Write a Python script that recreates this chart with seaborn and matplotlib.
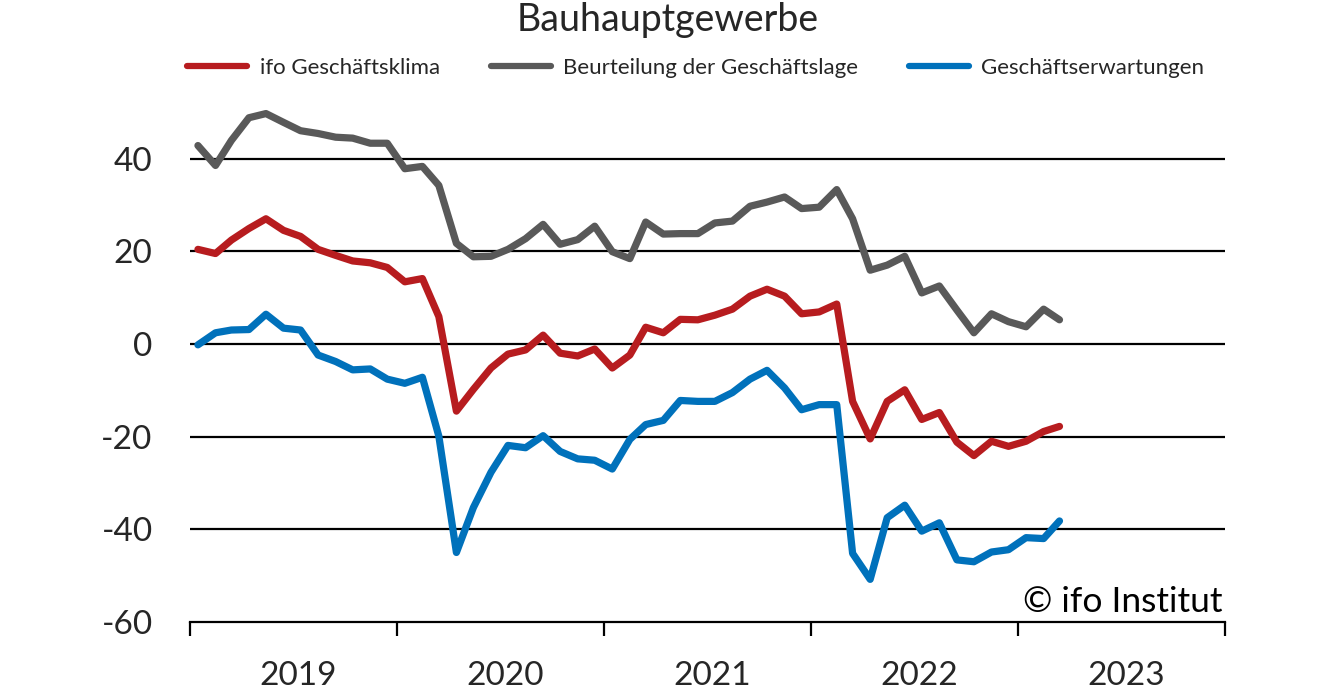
import matplotlib
matplotlib.use("Agg")
import matplotlib.pyplot as plt
import seaborn as sns
import pandas as pd
from matplotlib.lines import Line2D

# ---------------- data ----------------
months = pd.date_range("2019-01-01", periods=51, freq="MS") + pd.Timedelta(days=14)

klima = [20.4, 19.5, 22.4, 24.9, 27.0, 24.5, 23.2, 20.4, 19.1, 17.9, 17.5, 16.5,
         13.4, 14.1, 5.9, -14.5, -9.8, -5.2, -2.2, -1.3, 1.9, -2.0, -2.6, -1.1,
         -5.2, -2.4, 3.6, 2.4, 5.3, 5.2, 6.2, 7.5, 10.3, 11.8, 10.3, 6.5,
         6.9, 8.6, -12.4, -20.5, -12.4, -9.9, -16.3, -14.8, -21.2, -24.1, -21.0, -22.1,
         -21.0, -18.9, -17.8]
lage = [42.8, 38.5, 43.9, 48.8, 49.7, 47.8, 46.0, 45.4, 44.6, 44.4, 43.3, 43.3,
        37.8, 38.3, 34.2, 21.7, 18.8, 18.9, 20.4, 22.7, 25.8, 21.5, 22.5, 25.4,
        19.9, 18.4, 26.3, 23.7, 23.8, 23.8, 26.1, 26.5, 29.7, 30.6, 31.7, 29.2,
        29.5, 33.3, 27.0, 15.9, 17.0, 18.9, 11.0, 12.5, 7.3, 2.4, 6.5, 4.8,
        3.7, 7.5, 5.2]
erwartungen = [-0.2, 2.4, 3.0, 3.1, 6.4, 3.4, 3.0, -2.4, -3.8, -5.6, -5.4, -7.6,
               -8.5, -7.2, -19.9, -45.0, -35.3, -27.7, -21.9, -22.4, -19.8, -23.2, -24.8, -25.1,
               -27.0, -20.6, -17.4, -16.5, -12.2, -12.4, -12.4, -10.5, -7.6, -5.7, -9.5, -14.2,
               -13.1, -13.1, -45.2, -50.8, -37.5, -34.8, -40.4, -38.6, -46.6, -47.0, -44.9, -44.4,
               -41.8, -42.0, -38.2]

series_names = ["ifo Geschäftsklima", "Beurteilung der Geschäftslage", "Geschäftserwartungen"]
colors = ["#B71C1F", "#595959", "#0071BB"]
yticks = [-60, -40, -20, 0, 20, 40]
years = [2019, 2020, 2021, 2022, 2023]

df = pd.DataFrame({"Monat": months,
                   series_names[0]: klima,
                   series_names[1]: lage,
                   series_names[2]: erwartungen})
long = df.melt(id_vars="Monat", var_name="Reihe", value_name="Wert")

# ---------------- style ----------------
sns.set_theme(style="white")
plt.rcParams["font.family"] = ["Lato", "DejaVu Sans"]

fig = plt.figure(figsize=(13.28, 6.95), dpi=100)
ax = fig.add_axes([190 / 1328, 1 - 622 / 695, (1225 - 190) / 1328, (622 - 89) / 695])

sns.lineplot(data=long, x="Monat", y="Wert", hue="Reihe", hue_order=series_names,
             palette=dict(zip(series_names, colors)), linewidth=5.2, ax=ax,
             legend=False, solid_capstyle="round", solid_joinstyle="round", zorder=3)

ax.set_xlim(pd.Timestamp("2019-01-01"), pd.Timestamp("2024-01-01"))
ax.set_ylim(-60, 55)
ax.set_yticks(yticks)
ax.set_yticklabels([str(v) for v in yticks], fontsize=24)
ax.tick_params(axis="y", length=0, pad=27)

# gridlines
for v in yticks[1:]:
    ax.axhline(v, color="black", linewidth=1.6, zorder=1)

for s in ["left", "right", "top"]:
    ax.spines[s].set_visible(False)
ax.spines["bottom"].set_color("black")
ax.spines["bottom"].set_linewidth(1.6)

major = [pd.Timestamp(f"{y}-01-01") for y in years + [2024]]
minor = [pd.Timestamp(f"{y}-07-10") for y in years]
ax.set_xticks(major)
ax.set_xticklabels([""] * len(major))
ax.set_xticks(minor, minor=True)
ax.set_xticklabels([str(y) for y in years], minor=True, fontsize=24)
ax.tick_params(axis="x", which="major", direction="out", length=10, width=1.6, color="black", bottom=True)
ax.tick_params(axis="x", which="minor", length=0, pad=28, bottom=True)
ax.set_xlabel("")
ax.set_ylabel("")

ax.text(0.998, 0.019, "© ifo Institut", transform=ax.transAxes, ha="right", va="baseline",
        fontsize=25.5, color="black")

fig.text(0.503, 0.971, "Bauhauptgewerbe", ha="center", va="center", fontsize=27)

handles = [Line2D([0], [0], color=c, linewidth=4.5, solid_capstyle="round") for c in colors]
fig.legend(handles, series_names, loc="center", bbox_to_anchor=(0.524, 0.902), ncol=3,
           frameon=False, fontsize=16, handlelength=2.7, columnspacing=2.3, handletextpad=0.55)

fig.savefig("out.png", dpi=100)
